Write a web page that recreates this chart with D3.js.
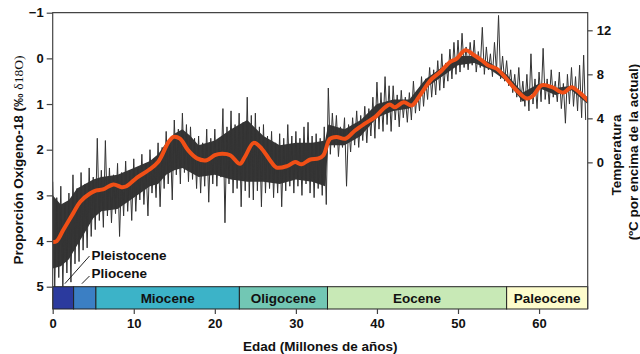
<!DOCTYPE html>
<html>
<head>
<meta charset="utf-8">
<script src="https://cdn.jsdelivr.net/npm/d3@7"></script>
<style>
  body { margin: 0; background: #fff; }
  text { font-family: "Liberation Sans", Arial, sans-serif; font-weight: bold; fill: #111; }
</style>
</head>
<body>
<div id="chart"></div>
<script>
// raw record: one upper and one lower reading every half million years
const ages = d3.range(0, 66, 0.5);
const hi = [2.7, 3.05, 2.8, 3.2, 2.95, 2.55, 2.85, 2.5, 2.75, 2.4,
  2.6, 1.75, 2.45, 1.8, 2.4, 2.55, 2.3, 2.5, 2.25, 2.45,
  2.2, 2.4, 2.1, 2.3, 2.0, 2.2, 1.85, 1.95, 1.6, 1.75,
  1.35, 1.55, 1.2, 1.45, 1.5, 1.75, 1.7, 1.85, 1.55, 1.75,
  1.55, 1.8, 1.1, 1.5, 1.15, 1.45, 1.2, 1.4, 0.85, 1.25,
  1.2, 1.5, 1.45, 1.7, 1.6, 1.85, 1.65, 1.75, 1.45, 1.7,
  1.6, 1.75, 1.5, 1.4, 1.7, 1.65, 1.75, 1.5, 0.65, 1.2,
  1.25, 1.5, 1.3, 1.45, 1.3, 1.15, 1.25, 1.05, 1.1, 0.85,
  0.52, 0.75, 0.4, 0.6, 0.6, 0.8, 0.7, 0.85, 0.75, 0.5,
  0.7, 0.4, 0.45, 0.2, 0.25, 0.05, -0.1, 0.1, -0.2, -0.35,
  -0.4, -0.55, -0.25, -0.35, -0.4, -0.15, -0.68, -0.25, -0.1, -0.35,
  -0.94, -0.05, 0.05, 0.25, 0.35, 0.2, 0.5, 0.35, -0.1, 0.45,
  0.3, -0.22, 0.45, 0.25, 0.5, 0.3, 0.55, 0.35, 0.2, 0.4, 0.15, -0.07];
const lo = [5.0, 4.8, 5.0, 4.7, 4.9, 4.5, 4.45, 4.2, 4.15, 3.9,
  3.75, 3.55, 3.7, 3.45, 3.6, 3.4, 3.9, 3.45, 3.35, 3.55,
  3.35, 3.1, 3.2, 3.45, 2.95, 3.05, 3.25, 2.85, 2.75, 3.1,
  2.55, 2.75, 2.5, 2.7, 2.65, 2.85, 2.95, 2.8, 3.15, 2.75,
  2.8, 2.6, 3.6, 2.75, 2.95, 2.85, 3.25, 2.9, 3.05, 3.1,
  2.9, 3.25, 2.95, 2.85, 3.05, 2.95, 3.25, 2.9, 2.8, 2.95,
  2.8, 3.0, 2.75, 2.95, 3.05, 2.85, 3.0, 3.2, 2.1, 1.95,
  2.15, 1.95, 2.8, 2.05, 1.9, 1.95, 1.8, 1.85, 1.7, 1.75,
  1.55, 1.6, 1.45, 1.6, 1.35, 1.5, 1.3, 1.4, 1.35, 1.2,
  1.15, 1.05, 0.9, 0.85, 0.8, 0.7, 0.65, 0.5, 0.45, 0.35,
  0.3, 0.2, 0.25, 0.15, 0.3, 0.2, 0.35, 0.25, 0.4, 0.3,
  0.45, 0.5, 0.6, 0.75, 0.85, 0.95, 1.05, 1.15, 1.0, 1.1,
  0.95, 0.9, 1.0, 0.85, 0.95, 1.1, 1.42, 1.0, 1.05, 1.15, 1.3, 1.35];

// dense core of the record
const coreAges = [0, 1, 2, 3, 4, 5, 6, 8, 10, 12, 13, 14, 15, 16, 17, 18, 20, 22, 24, 26, 28, 30, 32, 33.6, 34,
  36, 38, 40, 42, 44, 46, 48, 50, 52, 54, 56, 58, 60, 62, 64, 66];
const coreTop = [3.0, 3.2, 3.1, 2.85, 2.75, 2.65, 2.6, 2.55, 2.4, 2.25, 2.1, 1.85, 1.65, 1.55, 1.7, 1.9, 1.8, 1.55, 1.35, 1.7, 1.9,
  1.85, 1.85, 1.8, 1.45, 1.55, 1.35, 1.0, 0.9, 0.9, 0.45, 0.2, -0.05, -0.05, 0.1, 0.35, 0.75, 0.55, 0.65, 0.6, 0.85];
const coreBot = [4.6, 4.55, 4.4, 4.1, 3.8, 3.5, 3.35, 3.3, 3.05, 2.8, 2.75, 2.55, 2.45, 2.4, 2.5, 2.6, 2.55, 2.65, 2.7, 2.7, 2.75,
  2.65, 2.7, 2.8, 1.9, 1.9, 1.7, 1.3, 1.15, 1.1, 0.65, 0.4, 0.15, 0.1, 0.25, 0.5, 0.95, 0.65, 0.8, 0.7, 1.0];

// smoothed curve
const smoothAges = [0, 0.5, 1.3, 2.5, 3.4, 4.6, 5.4, 6.2, 7.5, 8.5, 9.1, 10.4, 11.8, 13.0, 14.3, 14.9, 15.7, 16.7, 17.8, 19.0,
  20.0, 20.9, 21.9, 23.1, 23.7, 24.8, 25.8, 26.8, 27.6, 28.9, 29.9, 30.7, 31.7, 32.8, 33.4, 34.2, 35.0, 36.1, 37.3, 38.5,
  39.8, 41.0, 41.6, 42.2, 43.3, 44.3, 45.3, 46.6, 47.8, 49.0, 49.8, 50.9, 51.9, 52.9, 53.7, 54.8, 55.8, 57.0, 58.5, 59.3,
  60.3, 61.6, 63.0, 64.0, 65.0, 66.0];
const smoothVals = [4.02, 4.0, 3.76, 3.40, 3.14, 2.96, 2.89, 2.87, 2.76, 2.82, 2.80, 2.61, 2.45, 2.27, 1.83, 1.72, 1.76, 2.01, 2.19, 2.23,
  2.12, 2.09, 2.12, 2.31, 2.16, 1.85, 1.98, 2.23, 2.39, 2.36, 2.27, 2.32, 2.22, 2.19, 2.12, 1.76, 1.72, 1.76, 1.58, 1.43,
  1.28, 1.07, 1.01, 1.07, 0.96, 1.03, 0.81, 0.48, 0.30, 0.08, 0.01, -0.18, -0.08, 0.04, 0.15, 0.23, 0.41, 0.66, 0.88, 0.81,
  0.59, 0.63, 0.75, 0.63, 0.75, 0.92];

const epochNames = ["", "", "Miocene", "Oligocene", "Eocene", "Paleocene"];
const epochStart = [0, 2.58, 5.33, 23.03, 33.9, 56];
const epochEnd = [2.58, 5.33, 23.03, 33.9, 56, 66];
const epochColors = ["#2b3a9e", "#3b7fc4", "#3cb3c8", "#72c7b4", "#c8e9b6", "#fdfccc"];

const yTicks = [-1, 0, 1, 2, 3, 4, 5];
const tempTicks = [0, 4, 8, 12];
const xTicks = [0, 10, 20, 30, 40, 50, 60];

const W = 640, H = 354;
const plotLeft = 52.7, plotRight = 587.7, plotTop = 12.7, plotBottom = 286.7, barBottom = 309;

const svg = d3.select("#chart").append("svg")
  .attr("width", W)
  .attr("height", H);

const x = d3.scaleLinear().domain([0, 66]).range([plotLeft, plotRight]);
const y = d3.scaleLinear().domain([-1, 5]).range([plotTop, plotBottom]);
// temperature scale tied to the d18O scale
const t = d3.scaleLinear().domain([13.6, -11.3]).range([plotTop, plotBottom]);

svg.append("clipPath").attr("id", "plot")
  .append("rect")
  .attr("x", plotLeft).attr("y", plotTop)
  .attr("width", plotRight - plotLeft).attr("height", plotBottom - plotTop);

const g = svg.append("g").attr("clip-path", "url(#plot)");

const core = coreAges.map((a, i) => [a, coreTop[i], coreBot[i]]);
g.append("path")
  .datum(core)
  .attr("fill", "#363636")
  .attr("d", d3.area()
    .x(d => x(d[0]))
    .y0(d => y(d[1]))
    .y1(d => y(d[2])));

const raw = ages.flatMap((a, i) => [[a, hi[i]], [a + 0.25, lo[i]]]);
g.append("path")
  .datum(raw)
  .attr("fill", "none")
  .attr("stroke", "#333")
  .attr("stroke-width", 1)
  .attr("d", d3.line().x(d => x(d[0])).y(d => y(d[1])));

const smooth = smoothAges.map((a, i) => [a, smoothVals[i]]);
g.append("path")
  .datum(smooth)
  .attr("fill", "none")
  .attr("stroke", "#f04f16")
  .attr("stroke-width", 4)
  .attr("stroke-linecap", "round")
  .attr("d", d3.line().x(d => x(d[0])).y(d => y(d[1])).curve(d3.curveCatmullRom.alpha(0.5)));

// epoch bar
const ep = svg.append("g");
ep.selectAll("rect")
  .data(epochNames)
  .join("rect")
  .attr("x", (d, i) => x(epochStart[i]))
  .attr("y", plotBottom)
  .attr("width", (d, i) => x(epochEnd[i]) - x(epochStart[i]))
  .attr("height", barBottom - plotBottom)
  .attr("fill", (d, i) => epochColors[i])
  .attr("stroke", "#222")
  .attr("stroke-width", 1);

ep.selectAll("text")
  .data(epochNames)
  .join("text")
  .attr("x", (d, i) => x((epochStart[i] + epochEnd[i]) / 2))
  .attr("y", (plotBottom + barBottom) / 2)
  .attr("dy", "0.36em")
  .attr("text-anchor", "middle")
  .style("font-size", "13.5px")
  .text(d => d);

// Pleistocene / Pliocene callouts
svg.append("line")
  .attr("x1", x(1.5)).attr("y1", plotBottom - 3)
  .attr("x2", 89.5).attr("y2", 256)
  .attr("stroke", "#222");
svg.append("line")
  .attr("x1", x(3.6)).attr("y1", plotBottom - 3)
  .attr("x2", 89.5).attr("y2", 276)
  .attr("stroke", "#222");
svg.append("text").attr("x", 91.5).attr("y", 260).style("font-size", "13.5px").text("Pleistocene");
svg.append("text").attr("x", 91.5).attr("y", 278).style("font-size", "13.5px").text("Pliocene");

// frame
svg.append("path")
  .attr("d", `M${plotLeft},${barBottom}V${plotTop}H${plotRight}V${barBottom}`)
  .attr("fill", "none")
  .attr("stroke", "#444")
  .attr("stroke-width", 1.2);

const yAxis = svg.append("g")
  .attr("transform", `translate(${plotLeft},0)`)
  .call(d3.axisLeft(y).tickValues(yTicks).tickFormat(d3.format("d")).tickSize(6).tickPadding(3));

const tAxis = svg.append("g")
  .attr("transform", `translate(${plotRight},0)`)
  .call(d3.axisRight(t).tickValues(tempTicks).tickFormat(d3.format("d")).tickSize(5).tickPadding(4));

const xAxis = svg.append("g")
  .attr("transform", `translate(0,${barBottom})`)
  .call(d3.axisBottom(x).tickValues(xTicks).tickFormat(d3.format("d")).tickSize(5).tickPadding(5));

[yAxis, tAxis, xAxis].forEach(a => {
  a.select(".domain").remove();
  a.selectAll(".tick line").attr("stroke", "#444").attr("stroke-width", 1.2);
  a.selectAll(".tick text").style("font-size", "13px").style("font-family", '"Liberation Sans", Arial, sans-serif').attr("fill", "#111");
});

svg.append("text")
  .attr("x", (plotLeft + plotRight) / 2)
  .attr("y", 351)
  .attr("text-anchor", "middle")
  .style("font-size", "13.5px")
  .text("Edad (Millones de años)");

const yTitle = svg.append("text")
  .attr("transform", "translate(18,160) rotate(-90)")
  .attr("dy", "0.35em")
  .attr("text-anchor", "middle")
  .style("font-size", "13.5px");
yTitle.append("tspan").text("Proporción Oxígeno-18 (‰ ");
yTitle.append("tspan")
  .style("font-family", '"Liberation Serif", "DejaVu Serif", serif')
  .style("font-weight", "normal")
  .text("δ18O)");

svg.append("text")
  .attr("transform", "translate(616,155) rotate(-90)")
  .attr("dy", "0.35em")
  .attr("text-anchor", "middle")
  .style("font-size", "13.5px")
  .text("Temperatura");
svg.append("text")
  .attr("transform", "translate(633,152) rotate(-90)")
  .attr("dy", "0.35em")
  .attr("text-anchor", "middle")
  .style("font-size", "13.5px")
  .text("(ºC por encima de la actual)");
</script>
</body>
</html>
